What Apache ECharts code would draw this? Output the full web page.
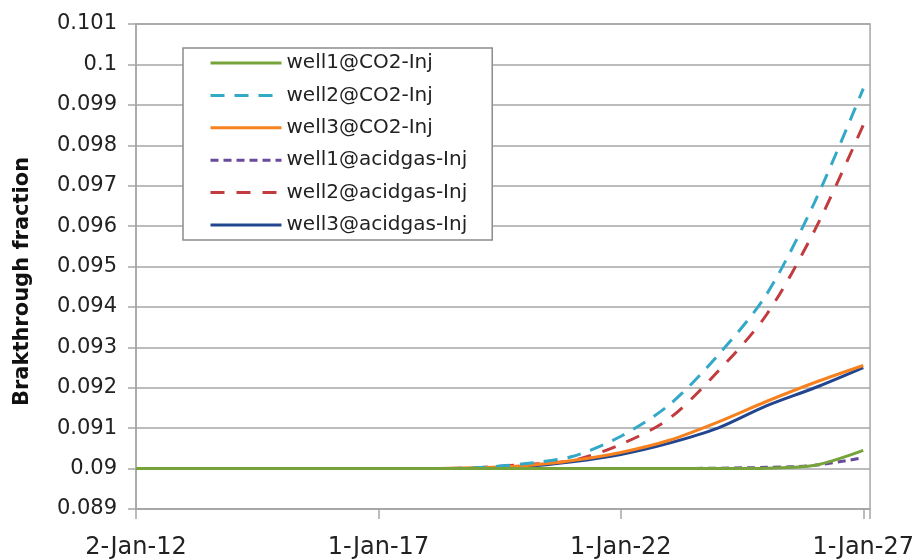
<!DOCTYPE html>
<html><head><meta charset="utf-8">
<script src="https://cdn.jsdelivr.net/npm/echarts@6/dist/echarts.min.js"></script>
<style>html,body{margin:0;padding:0;background:#fff}#c{width:917px;height:560px}</style>
</head><body><div id="c"></div>
<script>
// years since 2-Jan-12
var xOffsets = [0,1,2,3,4,5,6,7,8,9,10,11,12,13,14,15];
var tickLabels = {0:'2-Jan-12',5:'1-Jan-17',10:'1-Jan-22',15:'1-Jan-27'};
var seriesNames = ['well1@CO2-Inj','well2@CO2-Inj','well3@CO2-Inj','well1@acidgas-Inj','well2@acidgas-Inj','well3@acidgas-Inj'];
var well1CO2 = [0.09,0.09,0.09,0.09,0.09,0.09,0.09,0.09,0.09,0.09,0.09,0.09,0.09,0.09001,0.09008,0.09045];
var well2CO2 = [0.09,0.09,0.09,0.09,0.09,0.09,0.09,0.09002,0.09012,0.0903,0.0908,0.09158,0.0928,0.0943,0.0966,0.0994];
var well3CO2 = [0.09,0.09,0.09,0.09,0.09,0.09,0.09,0.09002,0.09007,0.0902,0.0904,0.0907,0.09115,0.09166,0.09213,0.09255];
var well1Acid = [0.09,0.09,0.09,0.09,0.09,0.09,0.09,0.09,0.09,0.09,0.09,0.09,0.09001,0.09003,0.09008,0.09027];
var well2Acid = [0.09,0.09,0.09,0.09,0.09,0.09,0.09,0.09002,0.0901,0.0902,0.0906,0.09124,0.0924,0.0938,0.0959,0.0985];
var well3Acid = [0.09,0.09,0.09,0.09,0.09,0.09,0.09,0.09001,0.09005,0.09017,0.09035,0.09063,0.091,0.09155,0.092,0.0925];

var colors = ['#76a33a','#33a8c7','#f7811f','#6a4a9c','#c23b3e','#21468f'];
var dashes = ['solid',[14,10],'solid',[8,5],[14,12],'solid'];
var seriesData = [well1CO2,well2CO2,well3CO2,well1Acid,well2Acid,well3Acid];

function pairs(arr){ return xOffsets.map(function(x,i){ return [x, arr[i]]; }); }

var series = seriesNames.map(function(n,i){
  return {
    name:n, type:'line', data:pairs(seriesData[i]), smooth:0.3, symbol:'none',
    lineStyle:{color:colors[i], width:3, type:dashes[i]}, itemStyle:{color:colors[i]},
    z: 10-i
  };
});

var chart = echarts.init(document.getElementById('c'), null, {renderer:'canvas'});
chart.setOption({
  animation:false,
  color:colors,
  grid:{left:136, right:43, top:24, bottom:50, show:true, borderColor:'#a6a6a6', borderWidth:1.5},
  legend:{
    orient:'vertical', left:183, top:48, padding:[5,25,5,26],
    backgroundColor:'#fff', borderColor:'#8c8c8c', borderWidth:1.5,
    itemWidth:71, itemHeight:14, itemGap:12.4,
    itemStyle:{opacity:0},
    lineStyle:{width:3},
    textStyle:{fontFamily:'DejaVu Sans', fontSize:20, color:'#222', lineHeight:20},
    data:seriesNames
  },
  xAxis:{
    type:'value', min:0, max:15.14, interval:5,
    axisLine:{show:true, lineStyle:{color:'#a6a6a6', width:1.5}},
    axisTick:{show:true, length:10, lineStyle:{color:'#a6a6a6', width:1.5}},
    splitLine:{show:false},
    axisLabel:{fontFamily:'DejaVu Sans', fontSize:24, color:'#222', margin:27,
      formatter:function(v){ return tickLabels[Math.round(v)] !== undefined && Math.abs(v-Math.round(v))<1e-6 ? tickLabels[Math.round(v)] : ''; }}
  },
  yAxis:{
    type:'value', min:0.089, max:0.101, interval:0.001,
    name:'Brakthrough fraction', nameLocation:'middle', nameGap:103,
    nameTextStyle:{fontFamily:'DejaVu Sans', fontWeight:'bold', fontSize:21, color:'#111', padding:[0,30,0,0]},
    axisLine:{show:true, lineStyle:{color:'#a6a6a6', width:1.5}},
    axisTick:{show:true, length:8, lineStyle:{color:'#a6a6a6', width:1.5}},
    splitLine:{show:true, lineStyle:{color:'#a6a6a6', width:1.5}},
    axisLabel:{fontFamily:'DejaVu Sans', fontSize:21, color:'#222', margin:19,
      formatter:function(v){ return String(parseFloat(v.toFixed(3))); }}
  },
  series:series
});
</script></body></html>
